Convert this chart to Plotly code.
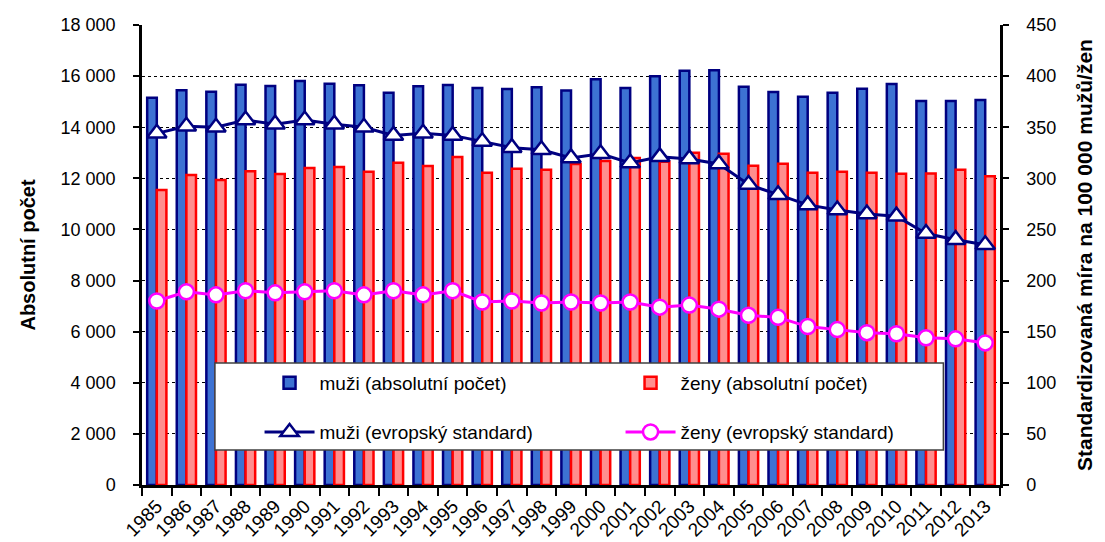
import plotly.graph_objects as go

years = [str(y) for y in range(1985, 2014)]

muzi_abs = [15150, 15450, 15390, 15660, 15610, 15810, 15700, 15640, 15350, 15600,
            15650, 15535, 15495, 15560, 15440, 15875, 15535, 15990, 16210, 16225,
            15585, 15380, 15195, 15350, 15510, 15690, 15025, 15025, 15065]

zeny_abs = [11540, 12130, 11935, 12275, 12170, 12405, 12440, 12260, 12610, 12480,
            12835, 12220, 12375, 12340, 12560, 12680, 12800, 12650, 13000, 12960,
            12490, 12570, 12220, 12260, 12220, 12180, 12190, 12340, 12080]

muzi_std = [344, 351, 350, 357, 353, 357, 353, 350, 342, 344,
            342, 336, 330, 328, 320, 324, 315, 321, 319, 314,
            294, 284, 274, 269, 265, 263, 246, 240, 235]

zeny_std = [180, 189, 186, 190, 188, 189, 190, 186, 190, 186,
            190, 179, 180, 178, 179, 178, 179, 174, 176, 172,
            166, 164, 155, 152, 149, 148, 144, 143, 139]

FONT = "Liberation Sans, Arial, sans-serif"

fig = go.Figure()
fig.add_trace(go.Bar(
    x=years, y=muzi_abs, name="muži (absolutní počet)",
    marker=dict(color="#3D72D3", line=dict(color="#000080", width=2.5)),
    legend="legend",
))
fig.add_trace(go.Bar(
    x=years, y=zeny_abs, name="ženy (absolutní počet)",
    marker=dict(color="#FF8E8E", line=dict(color="#FF0000", width=2.5)),
    legend="legend",
))
fig.add_trace(go.Scatter(
    x=years, y=muzi_std, name="muži (evropský standard)", yaxis="y2",
    mode="lines+markers",
    line=dict(color="#000080", width=3),
    marker=dict(symbol="triangle-up", size=17, color="white",
                line=dict(color="#000080", width=2.5)),
    legend="legend2",
))
fig.add_trace(go.Scatter(
    x=years, y=zeny_std, name="ženy (evropský standard)", yaxis="y2",
    mode="lines+markers",
    line=dict(color="#FF00FF", width=3),
    marker=dict(symbol="circle", size=15, color="white",
                line=dict(color="#FF00FF", width=2.5)),
    legend="legend2",
))

# legend box (paper coords of the plot area)
fig.add_shape(type="rect", xref="paper", yref="paper",
              x0=0.085, x1=0.934, y0=0.076, y1=0.265,
              fillcolor="white", line=dict(color="#404040", width=1.5),
              layer="above")

legend_common = dict(orientation="h", xanchor="left", yanchor="middle",
                     bgcolor="rgba(0,0,0,0)", itemwidth=50, entrywidth=296,
                     font=dict(family=FONT, size=19, color="black"),
                     traceorder="normal")

# the page adds an 8px body margin, so the figure is drawn 8px smaller
fig.update_layout(
    width=1097, height=534,
    margin=dict(l=134, r=105, t=17, b=57, autoexpand=False),
    paper_bgcolor="white", plot_bgcolor="white",
    separators=", ",
    barmode="group", bargap=0.35, bargroupgap=0.0,
    font=dict(family=FONT, size=18, color="black"),
    legend=dict(x=0.137, y=0.222, **legend_common),
    legend2=dict(x=0.137, y=0.115, **legend_common),
    xaxis=dict(
        type="category", range=[-0.5, 28.5], tickangle=-45, tickson="boundaries",
        ticks="outside", ticklen=8, tickwidth=2, tickcolor="black",
        showline=True, linecolor="black", linewidth=2.5, automargin=False,
        showgrid=False, tickfont=dict(family=FONT, size=19),
    ),
    yaxis=dict(
        range=[0, 18000], dtick=2000, tickformat=",",
        ticks="outside", ticklen=6, tickwidth=2, tickcolor="black",
        showline=True, linecolor="black", linewidth=2.5, automargin=False,
        showgrid=True, gridcolor="black", gridwidth=1, griddash="dot",
        zeroline=False, ticklabelstandoff=14,
        tickfont=dict(family=FONT, size=18),
        title=dict(text="<b>Absolutní počet</b>", standoff=20,
                   font=dict(family=FONT, size=20)),
    ),
    yaxis2=dict(
        range=[0, 450], dtick=50, overlaying="y", side="right",
        ticks="outside", ticklen=6, tickwidth=2, tickcolor="black",
        showline=True, linecolor="black", linewidth=2.5, automargin=False,
        showgrid=False, zeroline=False, ticklabelstandoff=14,
        tickfont=dict(family=FONT, size=18),
        title=dict(text="<b>Standardizovaná míra na 100 000 mužů/žen</b>", standoff=22,
                   font=dict(family=FONT, size=21)),
    ),
)

fig.write_html("out.html")
